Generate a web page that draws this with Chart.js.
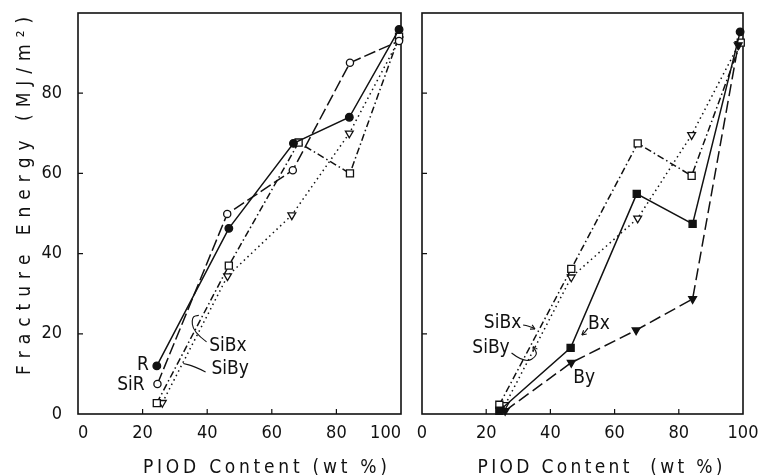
<!DOCTYPE html>
<html>
<head>
<meta charset="utf-8">
<script src="https://cdn.jsdelivr.net/npm/chart.js@4.4.0/dist/chart.umd.min.js"></script>
<style>
  html, body { margin: 0; padding: 0; background: #fff; }
  #wrap { position: relative; width: 758px; height: 475px; }
  canvas { position: absolute; top: 0; }
  #left-chart { left: 0; }
  #right-chart { left: 410px; }
</style>
</head>
<body>
<div id="wrap">
  <canvas id="left-chart" width="410" height="475"></canvas>
  <canvas id="right-chart" width="348" height="475"></canvas>
</div>
<script>
// tick labels
const xTicks = [0, 20, 40, 60, 80, 100];
const yTicks = [0, 20, 40, 60, 80];

// left panel (wt % PIOD, fracture energy)
const leftR_x = [24.4, 46.7, 66.7, 84.0, 99.4];
const leftR_y = [12.0, 46.3, 67.5, 74.0, 95.9];
const leftSiR_x = [24.6, 46.2, 66.5, 84.2, 99.4];
const leftSiR_y = [7.5, 49.9, 60.8, 87.6, 93.0];
const leftSiBx_x = [24.4, 46.7, 68.3, 84.2, 99.4];
const leftSiBx_y = [2.7, 37.0, 67.7, 60.0, 94.1];
const leftSiBy_x = [26.1, 46.3, 66.2, 84.0, 99.4];
const leftSiBy_y = [2.8, 34.4, 49.6, 70.0, 93.4];

// right panel
const rightBx_x = [24.1, 46.3, 66.9, 84.3, 99.1];
const rightBx_y = [0.8, 16.5, 54.9, 47.4, 95.3];
const rightBy_x = [25.9, 46.5, 66.7, 84.3, 98.5];
const rightBy_y = [0.8, 12.8, 20.9, 28.7, 92.0];
const rightSiBx_x = [24.1, 46.5, 67.2, 84.0, 99.3];
const rightSiBx_y = [2.3, 36.2, 67.5, 59.4, 92.6];
const rightSiBy_x = [25.9, 46.5, 67.2, 84.0, 98.8];
const rightSiBy_y = [2.3, 34.1, 48.8, 69.6, 92.3];

const ink = '#111';
const fontFamily = "'DejaVu Sans Condensed', 'DejaVu Sans', sans-serif";
const titleFont = "19px " + fontFamily;
const labelFont = "19px " + fontFamily;

function series(xs, ys, opts) {
    return {
        data: xs.map((x, i) => ({ x: x, y: ys[i] })),
        showLine: true,
        borderColor: ink,
        borderWidth: 1.5,
        pointBorderColor: ink,
        pointBorderWidth: 1.3,
        clip: false,
        ...opts
    };
}

const openCircle = { pointStyle: 'circle', pointRadius: 3.6, pointBackgroundColor: '#fff' };
const fullCircle = { pointStyle: 'circle', pointRadius: 3.8, pointBackgroundColor: ink };
const openSquare = { pointStyle: 'rect', pointRadius: 5, pointBackgroundColor: '#fff' };
const openTri = { pointStyle: 'triangle', pointRotation: 180, pointRadius: 4.5, pointBackgroundColor: '#fff' };
const fullTri = { pointStyle: 'triangle', pointRotation: 180, pointRadius: 4.5, pointBackgroundColor: ink };

// curve through a list of [x, y] data points
function leader(chart, pts, arrow) {
    const { ctx, scales } = chart;
    const p = pts.map(q => [scales.x.getPixelForValue(q[0]), scales.y.getPixelForValue(q[1])]);
    ctx.beginPath();
    ctx.moveTo(p[0][0], p[0][1]);
    for (let i = 1; i < p.length - 1; i++) {
        const mx = (p[i][0] + p[i + 1][0]) / 2, my = (p[i][1] + p[i + 1][1]) / 2;
        ctx.quadraticCurveTo(p[i][0], p[i][1], mx, my);
    }
    const last = p[p.length - 1], prev = p[p.length - 2];
    ctx.lineTo(last[0], last[1]);
    ctx.stroke();
    if (arrow) {
        const a = Math.atan2(last[1] - prev[1], last[0] - prev[0]);
        ctx.beginPath();
        ctx.moveTo(last[0], last[1]);
        ctx.lineTo(last[0] - 5 * Math.cos(a - 0.5), last[1] - 5 * Math.sin(a - 0.5));
        ctx.moveTo(last[0], last[1]);
        ctx.lineTo(last[0] - 5 * Math.cos(a + 0.5), last[1] - 5 * Math.sin(a + 0.5));
        ctx.stroke();
    }
}

function spacedText(ctx, text, cx, cy, target, angle) {
    ctx.save();
    ctx.translate(cx, cy);
    ctx.rotate(angle);
    ctx.font = titleFont;
    ctx.fillStyle = ink;
    ctx.textBaseline = 'middle';
    ctx.textAlign = 'left';
    const chars = [...text];
    const w = ctx.measureText(text).width;
    const s = (target - w) / (chars.length - 1);
    let x = -target / 2;
    chars.forEach(ch => {
        ctx.fillText(ch, x, 0);
        x += ctx.measureText(ch).width + s;
    });
    ctx.restore();
}

const framePlugin = {
    id: 'frame',
    beforeDatasetsDraw(chart) {
        const { ctx, chartArea: a, scales } = chart;
        ctx.save();
        ctx.strokeStyle = ink;
        ctx.lineWidth = 1.6;
        ctx.strokeRect(a.left, a.top, a.right - a.left, a.bottom - a.top);
        ctx.lineWidth = 1.2;
        ctx.beginPath();
        xTicks.slice(1, -1).forEach(v => {
            const px = scales.x.getPixelForValue(v);
            ctx.moveTo(px, a.bottom);
            ctx.lineTo(px, a.bottom - 5);
        });
        yTicks.slice(1).forEach(v => {
            const py = scales.y.getPixelForValue(v);
            ctx.moveTo(a.left, py);
            ctx.lineTo(a.left + 5, py);
        });
        ctx.stroke();
        ctx.restore();
    }
};

function notesPlugin(labels, leaders, titles) {
    return {
        id: 'notes',
        afterDraw(chart) {
            const { ctx, scales } = chart;
            ctx.save();
            ctx.fillStyle = ink;
            ctx.strokeStyle = ink;
            ctx.lineWidth = 1.1;
            ctx.font = labelFont;
            ctx.textAlign = 'center';
            ctx.textBaseline = 'middle';
            labels.forEach(l => {
                ctx.fillText(l.text, scales.x.getPixelForValue(l.x), scales.y.getPixelForValue(l.y));
            });
            leaders.forEach(l => leader(chart, l.pts, l.arrow));
            titles.forEach(t => spacedText(ctx, t.text, t.cx, t.cy, t.width, t.angle));
            ctx.restore();
        }
    };
}

function noPad(s) {
    s.paddingTop = 0;
    s.paddingBottom = 0;
    s.paddingLeft = 0;
    s.paddingRight = 0;
}

function scalesFor(showY, alignX) {
    return {
        x: {
            type: 'linear', min: 0, max: 100,
            afterBuildTicks: s => { s.ticks = xTicks.map(v => ({ value: v })); },
            ticks: { color: ink, font: { family: fontFamily, size: 18 }, padding: 1, maxRotation: 0, autoSkip: false, align: alignX },
            grid: { display: false },
            border: { display: false },
            afterFit: s => { s.height = 61; noPad(s); }
        },
        y: {
            type: 'linear', min: 0, max: 100,
            afterBuildTicks: s => { s.ticks = yTicks.map(v => ({ value: v })); },
            ticks: { display: showY, color: ink, font: { family: fontFamily, size: 18 }, padding: 8 },
            grid: { display: false },
            border: { display: false },
            afterFit: s => { s.width = showY ? 78 : 12; noPad(s); }
        }
    };
}

const baseOptions = {
    responsive: false,
    animation: false,
    plugins: { legend: { display: false }, tooltip: { enabled: false } }
};

new Chart(document.querySelector('#left-chart').getContext('2d'), {
    type: 'scatter',
    data: {
        datasets: [
            series(leftR_x, leftR_y, { ...fullCircle }),
            series(leftSiR_x, leftSiR_y, { ...openCircle, borderDash: [12, 4] }),
            series(leftSiBx_x, leftSiBx_y, { ...openSquare, borderDash: [7, 3, 1.5, 3] }),
            series(leftSiBy_x, leftSiBy_y, { ...openTri, borderDash: [1.5, 3.5] })
        ]
    },
    options: {
        ...baseOptions,
        layout: { autoPadding: false, padding: { top: 13, right: 9, left: 0, bottom: 0 } },
        scales: scalesFor(true, 'inner')
    },
    plugins: [framePlugin, notesPlugin(
        [
            { text: 'R', x: 20.1, y: 12.2 },
            { text: 'SiR', x: 16.4, y: 7.2 },
            { text: 'SiBx', x: 46.4, y: 17.0 },
            { text: 'SiBy', x: 47.1, y: 11.2 }
        ],
        [
            { pts: [[39.8, 18.0], [35.6, 20.5], [35.2, 24.3], [37.4, 24.6]], arrow: false },
            { pts: [[39.5, 10.5], [36.0, 11.9], [32.6, 12.6]], arrow: false }
        ],
        [
            { text: 'Fracture Energy (MJ/m²)', cx: 25, cy: 197, width: 356, angle: -Math.PI / 2 },
            { text: 'PIOD Content (wt %)', cx: 265, cy: 468, width: 244, angle: 0 }
        ]
    )]
});

new Chart(document.querySelector('#right-chart').getContext('2d'), {
    type: 'scatter',
    data: {
        datasets: [
            series(rightBx_x, rightBx_y, {
                pointStyle: ['rect', 'rect', 'rect', 'rect', 'circle'],
                pointRadius: [5, 5, 5, 5, 3.8],
                pointBackgroundColor: ink
            }),
            series(rightBy_x, rightBy_y, { ...fullTri, borderDash: [12, 5] }),
            series(rightSiBx_x, rightSiBx_y, { ...openSquare, borderDash: [7, 3, 1.5, 3] }),
            series(rightSiBy_x, rightSiBy_y, { ...openTri, borderDash: [1.5, 3.5] })
        ]
    },
    options: {
        ...baseOptions,
        layout: { autoPadding: false, padding: { top: 13, right: 15, left: 0, bottom: 0 } },
        scales: scalesFor(false, 'center')
    },
    plugins: [framePlugin, notesPlugin(
        [
            { text: 'SiBx', x: 25.1, y: 22.6 },
            { text: 'SiBy', x: 21.5, y: 16.5 },
            { text: 'Bx', x: 55.1, y: 22.4 },
            { text: 'By', x: 50.5, y: 9.0 }
        ],
        [
            { pts: [[31.5, 22.2], [33.5, 21.9], [35.2, 21.2]], arrow: true },
            { pts: [[27.9, 15.2], [32.1, 12.6], [36.2, 14.7], [34.6, 16.8]], arrow: true },
            { pts: [[51.7, 21.4], [50.8, 20.4], [49.8, 19.7]], arrow: true }
        ],
        [
            { text: 'PIOD Content  (wt %)', cx: 190, cy: 468, width: 245, angle: 0 }
        ]
    )]
});
</script>
</body>
</html>
